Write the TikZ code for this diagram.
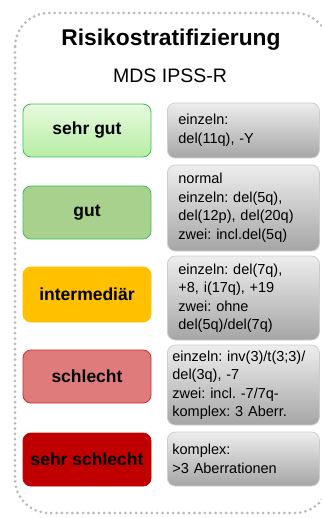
\documentclass[tikz,border=0pt]{standalone}
\usepackage{fontspec}
\setmainfont{Liberation Sans}
\frenchspacing

\definecolor{gutgruen}{HTML}{A9D18E}
\definecolor{randgruen}{HTML}{3DBE5C}
\definecolor{hellgruenoben}{HTML}{E8FADF}
\definecolor{hellgruenunten}{HTML}{B5EEA3}
\definecolor{mittelgelb}{HTML}{FFC000}
\definecolor{schlechtrot}{HTML}{E07B7B}
\definecolor{randrot}{HTML}{C9302C}
\definecolor{dunkelrot}{HTML}{C00000}

\tikzset{
  rahmen/.style={draw=gray!55, line width=3pt, line cap=round,
    dash pattern=on 0pt off 5.3pt, rounded corners=34pt},
  klasse/.style={draw, rounded corners=8pt, line width=0.8pt,
    minimum width=128pt, minimum height=53pt,
    font=\fontsize{17.5}{20}\selectfont\bfseries},
  befund/.style={draw=gray!40, rounded corners=8pt, line width=0.8pt,
    top color=gray!14, bottom color=gray!70, anchor=west,
    text width=#1, inner xsep={(152pt-#1)/2}, align=left,
    font=\fontsize{14.5}{18.5}\selectfont},
}

\begin{document}
\begin{tikzpicture}[x=1pt,y=-1pt]
\useasboundingbox (0,0) rectangle (321,518);

% gepunkteter Rahmen
\draw[rahmen] (15,13) rectangle (329,513);

\node (titel) at (171,40) {\fontsize{22.8}{26}\selectfont\bfseries Risikostratifizierung};
\node (system) at (170,76) {\fontsize{19.5}{22}\selectfont MDS IPSS-R};

% Risikogruppen
\node[klasse, draw=randgruen, top color=hellgruenoben, bottom color=hellgruenunten] (sehrgut) at (87,130.5) {sehr gut};
\node[klasse, draw=randgruen, fill=gutgruen] (gut) at (87,212.5) {gut};
\node[klasse, draw=mittelgelb, fill=mittelgelb, minimum height=55pt] (intermed) at (87,294.5) {intermediär};
\node[klasse, draw=randrot, fill=schlechtrot] (schlecht) at (87,376.5) {schlecht};
\node[klasse, draw=dunkelrot, fill=dunkelrot] (sehrschlecht) at (87,459.5) {sehr schlecht};

% Karyotypen
\node[befund=130pt, minimum height=55pt] (bsehrgut) at (167,130.5)
  {einzeln:\\del(11q), -Y};
\node[befund=130pt, minimum height=86pt] (bgut) at (167,208)
  {normal\\einzeln: del(5q),\\del(12p), del(20q)\\zwei: incl.del(5q)};
\node[befund=130pt, minimum height=84pt] (bintermed) at (167,298)
  {einzeln: del(7q),\\+8, i(17q), +19\\zwei: ohne\\del(5q)/del(7q)};
\node[befund=142pt, minimum height=80pt] (bschlecht) at (167,385)
  {einzeln: inv(3)/t(3;3)/\\del(3q), -7\\zwei: incl. -7/7q-\\komplex: 3 Aberr.};
\node[befund=142pt, minimum height=54pt] (bsehrschlecht) at (167,459)
  {komplex:\\>3 Aberrationen};
\end{tikzpicture}
\end{document}
